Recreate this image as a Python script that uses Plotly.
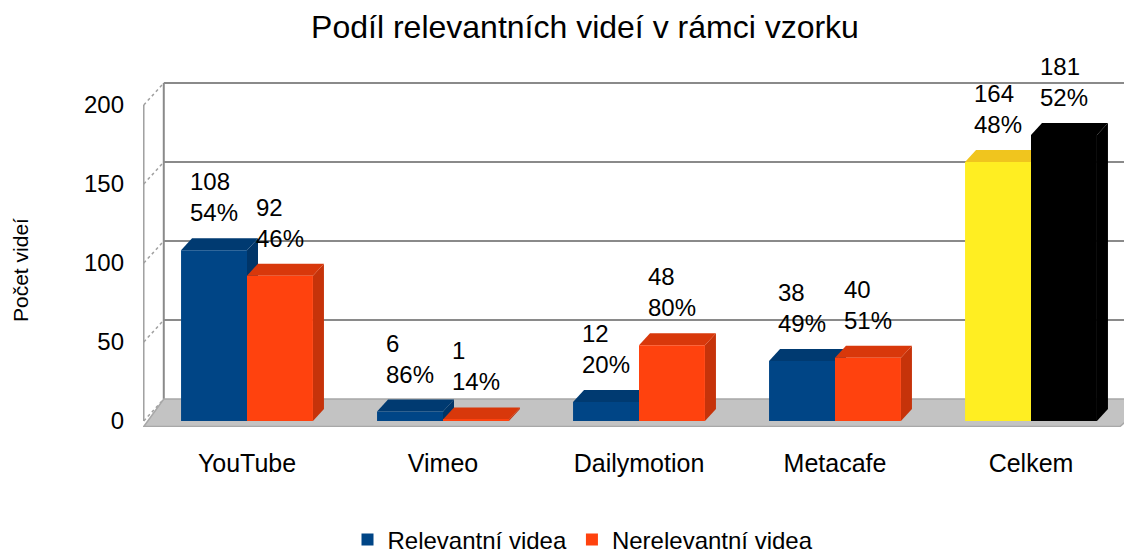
import plotly.graph_objects as go

# ---------------- data ----------------
categories = ["YouTube", "Vimeo", "Dailymotion", "Metacafe", "Celkem"]
relevant = [108, 6, 12, 38, 164]
irrelevant = [92, 1, 48, 40, 181]
relevant_pct = ["54%", "86%", "20%", "49%", "48%"]
irrelevant_pct = ["46%", "14%", "80%", "51%", "52%"]
yticks = [0, 50, 100, 150, 200]
series_names = ["Relevantní videa", "Nerelevantní videa"]

# ---------------- style ----------------
relevant_colors = ["#004586", "#004586", "#004586", "#004586", "#ffee22"]
irrelevant_colors = ["#ff420e", "#ff420e", "#ff420e", "#ff420e", "#000000"]
FONT = "Liberation Sans, Arial, sans-serif"

OFF = 8            # page body margin
W, H = 1132 - OFF, 556 - OFF
ML, MT = 143 - OFF, 82 - OFF
MR = 0
MB = H - (427 - OFF)
PX_X = 196.0       # px per category unit
PX_Y = 1.58        # px per value unit
X0_PX = 247 - 143  # px of category 0 inside plot
Y0_PX = 421 - 82   # px of value 0 inside plot
plot_w = W - ML - MR
plot_h = H - MT - MB
x_range = [-X0_PX / PX_X, (plot_w - X0_PX) / PX_X]
y_range = [(Y0_PX - plot_h) / PX_Y, Y0_PX / PX_Y]

BARGAP = 0.327
BW = (1 - BARGAP) / 2
DXB, DYB = 11 / PX_X, 12 / PX_Y        # bar depth
DXF, DYF = 20 / PX_X, 22 / PX_Y        # floor / wall depth
x_left = x_range[0] + 0.004
x_front_right = (1120 - 247) / PX_X


def shade(hexcol, f):
    h = hexcol.lstrip("#")
    r, g, b = (int(h[i:i + 2], 16) for i in (0, 2, 4))
    return "#%02x%02x%02x" % (int(r * f), int(g * f), int(b * f))


xs = list(range(len(categories)))
fig = go.Figure()
for k, (vals, cols, name) in enumerate([(relevant, relevant_colors, series_names[0]),
                                         (irrelevant, irrelevant_colors, series_names[1])]):
    fig.add_trace(go.Bar(x=xs, y=vals, name=name, marker=dict(color=cols, line=dict(width=0)),
                         hoverinfo="skip"))

shapes = []
# back wall gridlines
for t in yticks[1:]:
    shapes.append(dict(type="line", xref="x", yref="y", layer="below",
                       x0=x_left + DXF, x1=x_range[1], y0=t + DYF, y1=t + DYF,
                       line=dict(color="#8a8a8a", width=2)))
# left wall
shapes.append(dict(type="line", xref="x", yref="y", layer="below",
                   x0=x_left, x1=x_left, y0=0, y1=yticks[-1], line=dict(color="#a0a0a0", width=1.5)))
shapes.append(dict(type="line", xref="x", yref="y", layer="below",
                   x0=x_left + DXF, x1=x_left + DXF, y0=DYF, y1=yticks[-1] + DYF,
                   line=dict(color="#8a8a8a", width=2)))
for t in yticks:
    shapes.append(dict(type="line", xref="x", yref="y", layer="below",
                       x0=x_left, x1=x_left + DXF, y0=t, y1=t + DYF,
                       line=dict(color="#a0a0a0", width=1.5, dash="dot")))
# floor
fy = y_range[0] + 0.3
shapes.append(dict(type="path", xref="x", yref="y", layer="below",
                   path=f"M {x_left},{fy} L {x_left + DXF},{DYF} L {x_range[1] + 0.1},{DYF} "
                        f"L {x_front_right},{fy} Z",
                   fillcolor="#c3c3c3", line=dict(color="#a8a8a8", width=1.5)))

# bar depth faces (top and side), drawn left to right so right bars cover left ones
for i in xs:
    for k, (vals, cols) in enumerate([(relevant, relevant_colors), (irrelevant, irrelevant_colors)]):
        v = vals[i]
        c = i + (k - 0.5) * BW
        xl, xr = c - BW / 2, c + BW / 2
        top = shade(cols[i], 0.85) if cols[i] != "#000000" else "#000000"
        side = shade(cols[i], 0.78) if cols[i] != "#000000" else "#000000"
        if cols[i] == "#ffee22":
            top = "#f0c51e"
            side = "#e8c81c"
        shapes.append(dict(type="path", xref="x", yref="y", layer="between",
                           path=f"M {xr},{0} L {xr},{v} L {xr + DXB},{v + DYB} L {xr + DXB},{DYB} Z",
                           fillcolor=side, line=dict(width=0)))
        shapes.append(dict(type="path", xref="x", yref="y", layer="between",
                           path=f"M {xl},{v} L {xl + DXB},{v + DYB} L {xr + DXB},{v + DYB} L {xr},{v} Z",
                           fillcolor=top, line=dict(width=0)))

annotations = []
for i in xs:
    for k, (vals, pcts) in enumerate([(relevant, relevant_pct), (irrelevant, irrelevant_pct)]):
        c = i + (k - 0.5) * BW
        annotations.append(dict(x=c, y=vals[i] + DYB, xref="x", yref="y", xanchor="center",
                                yanchor="bottom", yshift=10, align="left", showarrow=False,
                                text=f"{vals[i]}<br>{pcts[i]}",
                                font=dict(family=FONT, size=24, color="#000000")))
annotations.append(dict(x=0, y=(427 - 270) / plot_h, xref="paper", yref="paper", xanchor="center",
                        yanchor="middle", xshift=-(143 - 20),
                        textangle=-90, showarrow=False, text="Počet videí",
                        font=dict(family=FONT, size=21, color="#000000")))

fig.update_layout(
    width=W, height=H,
    margin=dict(l=ML, r=MR, t=MT, b=MB, pad=0, autoexpand=False),
    paper_bgcolor="white", plot_bgcolor="white",
    barmode="group", bargap=BARGAP, bargroupgap=0,
    title=dict(text="Podíl relevantních videí v rámci vzorku", x=(585 - OFF) / W, xanchor="center",
               y=1 - (27 - OFF) / H, yanchor="middle", font=dict(family=FONT, size=32, color="#000000")),
    xaxis=dict(range=x_range, tickvals=xs, ticktext=categories, showgrid=False, zeroline=False,
               showline=False, ticks="", ticklabelstandoff=19, automargin=False,
               tickfont=dict(family=FONT, size=25, color="#000000")),
    yaxis=dict(range=y_range, tickvals=yticks, showgrid=False, zeroline=False, showline=False,
               ticks="", ticklabelstandoff=18, automargin=False,
               tickfont=dict(family=FONT, size=24, color="#000000")),
    legend=dict(orientation="h", x=(583 - 143) / plot_w, xanchor="center",
                y=-(540 - 427) / plot_h, yanchor="middle",
                font=dict(family=FONT, size=24, color="#000000"), itemwidth=30),
    shapes=shapes, annotations=annotations, showlegend=True,
)

fig.write_html("out.html")
